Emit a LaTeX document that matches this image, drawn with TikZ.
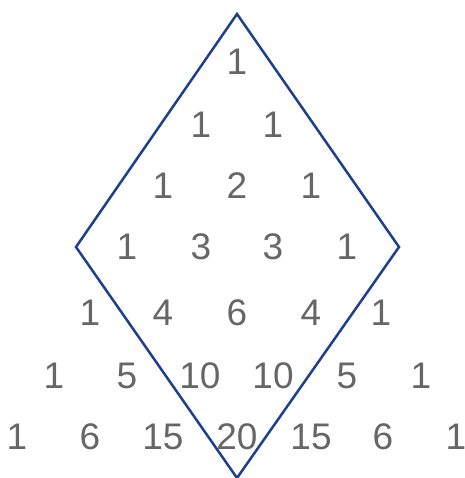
\documentclass[tikz,border=0pt]{standalone}
\usepackage{fontspec}
\setmainfont{Liberation Sans}
\definecolor{numgray}{HTML}{666666}
\definecolor{diablue}{HTML}{1F3E8E}
\begin{document}
\begin{tikzpicture}[x=1pt,y=1pt,
  num/.style={inner sep=0pt,anchor=base,text=numgray,font=\fontsize{37}{37}\selectfont},
  edge/.style={draw=diablue,line width=2.5pt,line join=miter}]
\useasboundingbox (0,0) rectangle (464,478);
% row 0
\node[num] (n00) at (237,403.5) {1};
% row 1
\node[num] (n10) at (201,340.5) {1};
\node[num] (n11) at (273,340.5) {1};
% row 2
\node[num] (n20) at (163,279.5) {1};
\node[num] (n21) at (237,279.5) {2};
\node[num] (n22) at (311,279.5) {1};
% row 3
\node[num] (n30) at (127,218.5) {1};
\node[num] (n31) at (201,218.5) {3};
\node[num] (n32) at (273,218.5) {3};
\node[num] (n33) at (347,218.5) {1};
% row 4
\node[num] (n40) at (90,152.5) {1};
\node[num] (n41) at (163,152.5) {4};
\node[num] (n42) at (237,152.5) {6};
\node[num] (n43) at (311,152.5) {4};
\node[num] (n44) at (381,152.5) {1};
% row 5
\node[num] (n50) at (54,89.5) {1};
\node[num] (n51) at (127,89.5) {5};
\node[num] (n52) at (200,89.5) {10};
\node[num] (n53) at (273,89.5) {10};
\node[num] (n54) at (347,89.5) {5};
\node[num] (n55) at (421,89.5) {1};
% row 6
\node[num] (n60) at (17,28.5) {1};
\node[num] (n61) at (90,28.5) {6};
\node[num] (n62) at (163,28.5) {15};
\node[num] (n63) at (237,28.5) {20};
\node[num] (n64) at (311,28.5) {15};
\node[num] (n65) at (383,28.5) {6};
\node[num,inner xsep=-3pt] (n66) at (456,28.5) {1};
% diamond
\coordinate (top) at (237,464);
\coordinate (left) at (76,231);
\coordinate (right) at (399,231);
\coordinate (bot) at (237,0);
\draw[edge] (top) -- (left) -- (bot) -- (right) -- cycle;
\end{tikzpicture}
\end{document}
